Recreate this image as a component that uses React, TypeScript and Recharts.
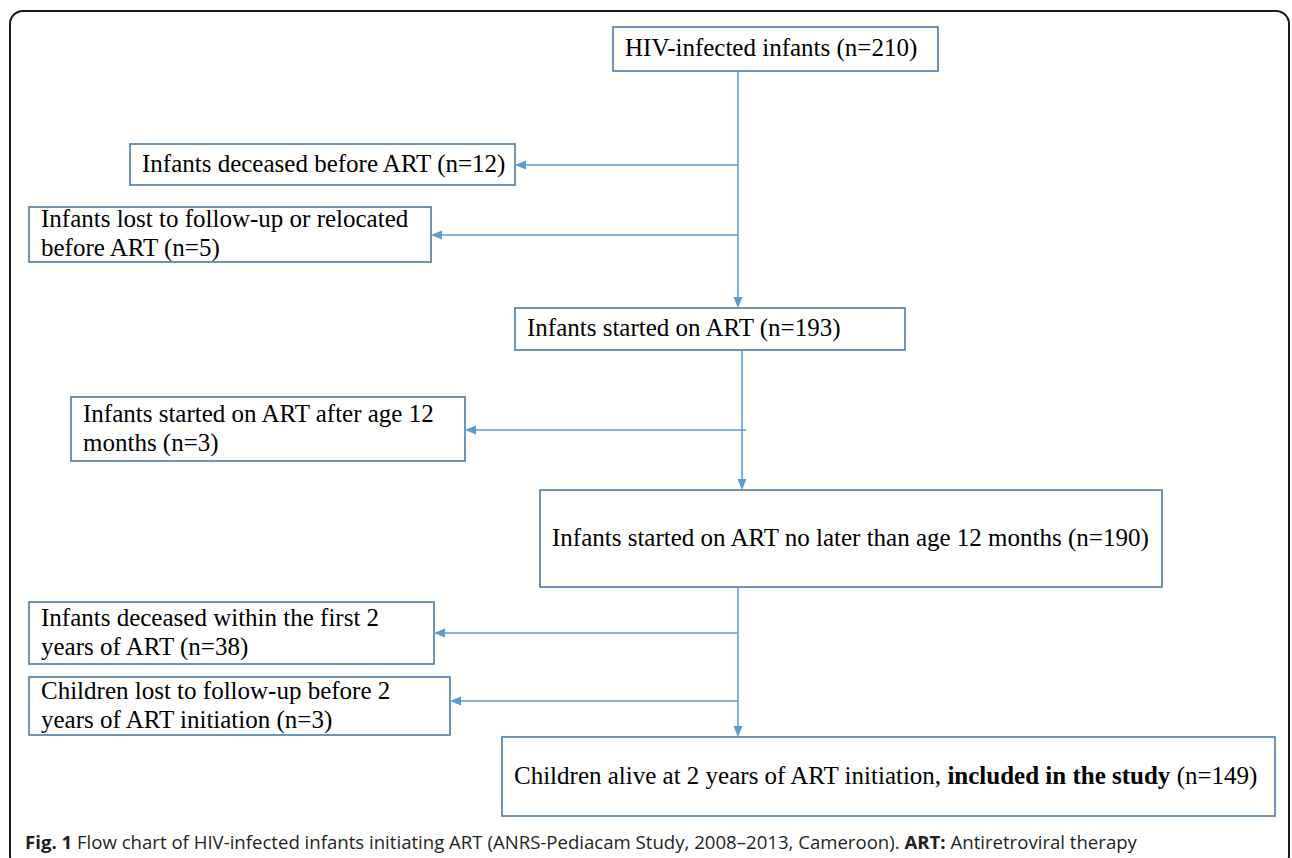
import { ReferenceArea, ReferenceLine, Scatter, ScatterChart, XAxis, YAxis } from 'recharts';

const W = 1292;
const H = 858;

// boxes of the flow chart, in page coordinates (x right, y down)
const nodes = [
  { id: 'all', lines: ['HIV-infected infants (n=210)'], x1: 613, x2: 938, y1: 27, y2: 71 },
  { id: 'dead0', lines: ['Infants deceased before ART (n=12)'], x1: 130, x2: 515, y1: 144, y2: 185 },
  { id: 'lost0', lines: ['Infants lost to follow-up or relocated', 'before ART (n=5)'], x1: 29, x2: 431, y1: 207, y2: 262 },
  { id: 'art', lines: ['Infants started on ART (n=193)'], x1: 515, x2: 905, y1: 308, y2: 350 },
  { id: 'late', lines: ['Infants started on ART after age 12', 'months (n=3)'], x1: 71, x2: 465, y1: 397, y2: 461 },
  { id: 'early', lines: ['Infants started on ART no later than age 12 months (n=190)'], x1: 540, x2: 1162, y1: 490, y2: 587 },
  { id: 'dead2', lines: ['Infants deceased within the first 2', 'years of ART (n=38)'], x1: 29, x2: 434, y1: 602, y2: 664 },
  { id: 'lost2', lines: ['Children lost to follow-up before 2', 'years of ART initiation (n=3)'], x1: 29, x2: 450, y1: 677, y2: 735 },
  { id: 'study', lines: ['Children alive at 2 years of ART initiation, **included in the study** (n=149)'], x1: 502, x2: 1275, y1: 737, y2: 816 },
];

// arrows: from -> to (arrow head at "to")
const edges = [
  { from: [738, 71], to: [738, 308] },
  { from: [738, 165], to: [515, 165] },
  { from: [738, 235], to: [431, 235] },
  { from: [742, 350], to: [742, 490] },
  { from: [746, 430], to: [465, 430] },
  { from: [738, 587], to: [738, 737] },
  { from: [738, 633], to: [434, 633] },
  { from: [738, 701], to: [450, 701] },
];

const LINE_H = 29;
const PAD = 12;

const textPoints = nodes.flatMap((n) => {
  const mid = (n.y1 + n.y2) / 2 - 2;
  const top = mid - ((n.lines.length - 1) * LINE_H) / 2;
  return n.lines.map((t, i) => ({ x: n.x1 + PAD, y: top + i * LINE_H, text: t }));
});

function ArrowLine(props: any) {
  const { x1, y1, x2, y2 } = props;
  const dx = x2 - x1;
  const dy = y2 - y1;
  const len = Math.hypot(dx, dy) || 1;
  const ux = dx / len;
  const uy = dy / len;
  const hl = 11;
  const hw = 4.5;
  const bx = x2 - ux * hl;
  const by = y2 - uy * hl;
  const pts = `${x2},${y2} ${bx - uy * hw},${by + ux * hw} ${bx + uy * hw},${by - ux * hw}`;
  return (
    <g>
      <line x1={x1} y1={y1} x2={bx} y2={by} stroke="#5b9bd5" strokeWidth={1.5} />
      <polygon points={pts} fill="#5b9bd5" />
    </g>
  );
}

function BoxText(props: any) {
  const { cx, cy, payload } = props;
  const parts = String(payload.text).split('**');
  return (
    <text x={cx} y={cy} dominantBaseline="central" fontFamily="'Liberation Serif', 'Times New Roman', serif" fontSize={25} fill="#000">
      {parts.map((p, i) => (
        <tspan key={i} fontWeight={i % 2 === 1 ? 'bold' : 'normal'}>{p}</tspan>
      ))}
    </text>
  );
}

export default function App() {
  return (
    <div style={{ position: 'absolute', left: 0, top: 0, width: W, height: H, background: '#fff', overflow: 'hidden' }}>
      <div
        style={{
          position: 'absolute',
          left: 9,
          top: 10,
          width: 1281,
          height: 860,
          border: '2px solid #1a1a1a',
          borderRadius: 14,
          boxSizing: 'border-box',
        }}
      />
      <div style={{ position: 'absolute', left: 0, top: 0 }}>
        <ScatterChart width={W} height={H} margin={{ top: 0, right: 0, bottom: 0, left: 0 }}>
          <XAxis type="number" dataKey="x" domain={[0, W]} hide allowDataOverflow />
          <YAxis type="number" dataKey="y" domain={[0, H]} reversed hide allowDataOverflow />
          {edges.map((e, i) => (
            <ReferenceLine
              key={i}
              segment={[{ x: e.from[0], y: e.from[1] }, { x: e.to[0], y: e.to[1] }]}
              shape={(p: any) => <ArrowLine {...p} />}
            />
          ))}
          {nodes.map((n) => (
            <ReferenceArea
              key={n.id}
              x1={n.x1}
              x2={n.x2}
              y1={n.y1}
              y2={n.y2}
              fill="none"
              stroke="#41719c"
              strokeWidth={1.5}
              strokeOpacity={1}
            />
          ))}
          <Scatter data={textPoints} isAnimationActive={false} shape={(p: any) => <BoxText {...p} />} />
        </ScatterChart>
      </div>
      <svg width={W} height={H} style={{ position: 'absolute', left: 0, top: 0, pointerEvents: 'none' }}>
        <text x={25} y={849} fontFamily="'Open Sans', sans-serif" fontSize={18.6} fill="#231f20">
          <tspan fontWeight="bold">Fig. 1</tspan> Flow chart of HIV-infected infants initiating ART (ANRS-Pediacam Study, 2008–2013,
          Cameroon). <tspan fontWeight="bold">ART:</tspan> Antiretroviral therapy
        </text>
      </svg>
    </div>
  );
}
